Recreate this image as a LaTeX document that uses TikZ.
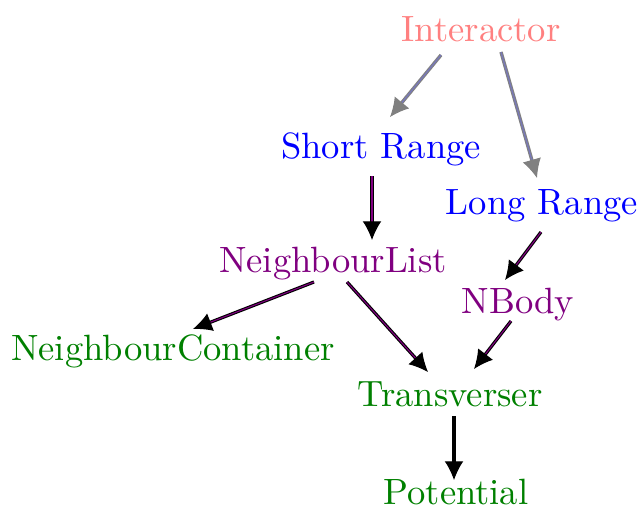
\documentclass[tikz,border=0pt]{standalone}
\usetikzlibrary{arrows.meta}
\definecolor{nlpurple}{RGB}{128,0,128}
\definecolor{ibl}{RGB}{120,120,185}
\begin{document}
\begin{tikzpicture}[x=0.2775pt,y=-0.2775pt,
  lbl/.style={anchor=base,inner sep=0pt,font=\fontsize{10.15pt}{12pt}\selectfont},
  arr/.style={draw=black,double=nlpurple,line width=0.3pt,double distance=0.3pt,
    -{Latex[length=5.2pt,width=5.2pt]}},
  garr/.style={draw=gray,double=ibl,line width=0.3pt,double distance=0.35pt,
    -{Latex[length=5.2pt,width=5.2pt]}}]
\useasboundingbox (0,0) rectangle (641,506);
\node[lbl,text=red!50] (int) at (481,41) {Interactor};
\node[lbl,text=blue] (sr) at (381,158) {Short Range};
\node[lbl,text=blue] (lr) at (542,214) {Long Range};
\node[lbl,text=nlpurple] (nl) at (333,272) {NeighbourList};
\node[lbl,text=nlpurple] (nb) at (518,313) {NBody};
\node[lbl,text=green!50!black] (nc) at (173,360) {NeighbourContainer};
\node[lbl,text=green!50!black] (tr) at (450,406) {Transverser};
\node[lbl,text=green!50!black] (po) at (456,504) {Potential};
\draw[garr] ([shift={(-40,14)}]int.base) -- ([shift={(9,-41)}]sr.base);
\draw[garr] ([shift={(20,11)}]int.base) -- ([shift={(-5,-36)}]lr.base);
\draw[arr] ([shift={(-9,18)}]sr.base) -- ([shift={(39,-32)}]nl.base);
\draw[arr] ([shift={(-1,18)}]lr.base) -- ([shift={(-13,-33)}]nb.base);
\draw[arr] ([shift={(-19,10)}]nl.base) -- ([shift={(20,-31)}]nc.base);
\draw[arr] ([shift={(14,10)}]nl.base) -- ([shift={(-22,-34)}]tr.base);
\draw[arr] ([shift={(-7,8)}]nb.base) -- ([shift={(24,-37)}]tr.base);
\draw[arr,double=black] ([shift={(4,10)}]tr.base) -- ([shift={(-2,-24)}]po.base);
\end{tikzpicture}
\end{document}
